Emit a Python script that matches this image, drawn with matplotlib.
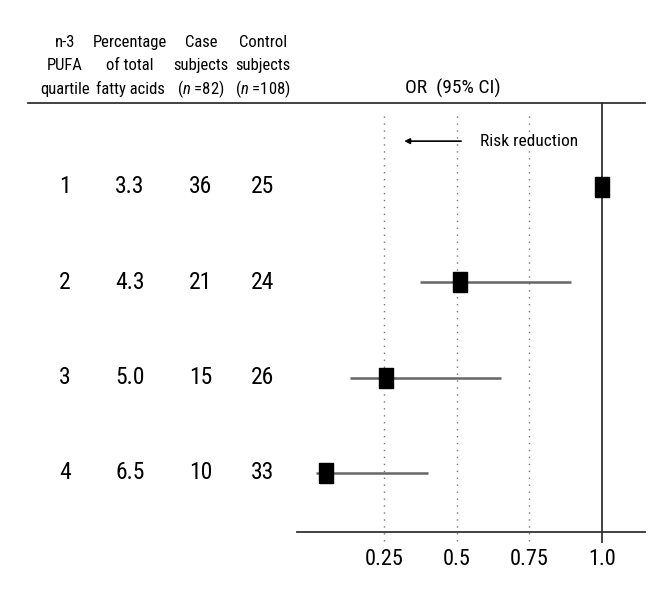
import numpy as np
import matplotlib.pyplot as plt
from matplotlib import font_manager
from matplotlib.lines import Line2D

# pick a narrow sans font if one is installed
names = set(f.name for f in font_manager.fontManager.ttflist)
font = 'DejaVu Sans'
for cand in ['Liberation Sans Narrow', 'Roboto Condensed', 'Open Sans Condensed', 'Liberation Sans']:
    if cand in names:
        font = cand
        break
plt.rcParams['font.family'] = [font, 'DejaVu Sans']
plt.rcParams['mathtext.fontset'] = 'custom'
plt.rcParams['mathtext.rm'] = font
plt.rcParams['mathtext.it'] = font + ':italic'

# table data
quartiles = ['1', '2', '3', '4']
pct_fatty = ['3.3', '4.3', '5.0', '6.5']
cases = ['36', '21', '15', '10']
controls = ['25', '24', '26', '33']

# odds ratios and 95% CI
odds = [1.0, 0.51, 0.257, 0.05]
ci_low = [np.nan, 0.374, 0.133, 0.016]
ci_high = [np.nan, 0.893, 0.652, 0.40]
xticks = [0.25, 0.5, 0.75, 1.0]
xticklabels = ['0.25', '0.5', '0.75', '1.0']

headers = [['n-3', 'PUFA', 'quartile'],
           ['Percentage', 'of total', 'fatty acids'],
           ['Case', 'subjects', r'($n$ =82)'],
           ['Control', 'subjects', r'($n$ =108)']]

W, H = 650, 597
fig = plt.figure(figsize=(W / 100, H / 100), dpi=100)

def fx(px):
    return px / W

def fy(py):
    return 1 - py / H

# forest plot axes
ax = fig.add_axes([fx(297), fy(532), fx(645 - 297), (532 - 103) / H])
ax.set_xlim(-0.049, 1.148)
ax.set_ylim(4.62, 0.12)

rows = np.arange(1, len(odds) + 1)

# dotted reference lines
for t in xticks[:-1]:
    ax.axvline(t, ymin=-0.02, ymax=0.97, color='#777777', linestyle=(0, (1, 4)),
               linewidth=1, clip_on=False)
# line of no effect
ax.axvline(1.0, ymin=-10 / 429, ymax=1, color='#333333', linewidth=1.3, clip_on=False)

# confidence intervals
ax.hlines(rows, ci_low, ci_high, color='#666666', linewidth=1.8)

# point estimates as tall black boxes
box = [(-0.72, -1), (0.72, -1), (0.72, 1), (-0.72, 1), (-0.72, -1)]
ax.plot(odds, rows, linestyle='none', marker=box, markersize=14,
        color='black', zorder=5)

# spines / ticks
for s in ['top', 'left', 'right']:
    ax.spines[s].set_visible(False)
ax.spines['bottom'].set_linewidth(1.3)
ax.spines['bottom'].set_color('#333333')
ax.set_yticks([])
ax.set_xticks(xticks)
ax.set_xticklabels(xticklabels, fontsize=16)
ax.tick_params(axis='x', length=0, pad=12)

# arrow and label
ax.annotate('', xy=(0.31, 0.52), xytext=(0.525, 0.52),
            arrowprops=dict(arrowstyle='-|>', color='black', lw=1.2,
                            mutation_scale=8))
ax.text(0.58, 0.52, 'Risk reduction', fontsize=12.5, va='center', ha='left')

# header line across the full width
fig.add_artist(Line2D([fx(28), fx(645)], [fy(103), fy(103)], color='#333333',
                      linewidth=1.3))
fig.text(fx(453), fy(88), 'OR  (95% CI)', fontsize=14, ha='center', va='center')

# table columns
col_x = [65, 130, 201, 263]
header_base = [47, 70, 94]
for x, h in zip(col_x, headers):
    for line, yb in zip(h, header_base):
        fig.text(fx(x), fy(yb), line, fontsize=12, ha='center', va='baseline')

trans = ax.get_yaxis_transform()
for r, vals in zip(rows, zip(quartiles, pct_fatty, cases, controls)):
    for x, v in zip(col_x, vals):
        px_x = (x - 297) / (645 - 297)
        ax.text(px_x, r, v, transform=trans, fontsize=17, ha='center',
                va='center', clip_on=False)

fig.savefig('out.png', dpi=100)
